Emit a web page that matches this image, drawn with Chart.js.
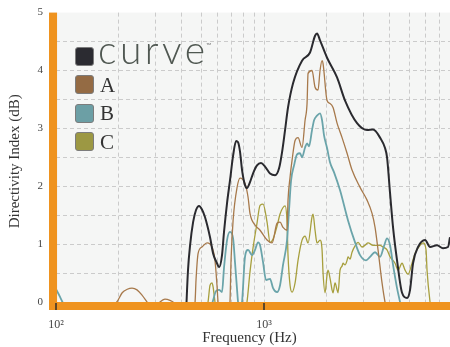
<!DOCTYPE html>
<html lang="en">
<head>
  <meta charset="UTF-8">
  <title>Directivity Index</title>
  <script src="https://cdn.jsdelivr.net/npm/chart.js"></script>
  <style>
    body { margin: 0; background: #fff; }
    #wrap { position: relative; width: 450px; height: 347px; }
    .sw { position: absolute; left: 75px; width: 17px; height: 17px; border: 1px solid #7c7c7c; border-radius: 3px; box-sizing: content-box; }
    .lab { position: absolute; left: 100px; font-family: "Liberation Serif", serif; font-size: 21px; line-height: 21px; color: #333; }
    #logo { position: absolute; left: 98px; top: 30px; font-family: Lato, sans-serif; font-weight: 300; font-size: 39px; line-height: 39px; letter-spacing: 3.5px; color: #505852; }
    #tm { position: absolute; left: 206px; top: 41px; font-family: Lato, sans-serif; font-size: 7px; color: #777; }
  </style>
</head>
<body>
  <div id="wrap">
    <canvas id="grafico" width="450" height="347"></canvas>
    <div class="sw" style="top:47px;background:#2b2b31"></div>
    <div id="logo">curve</div>
    <div id="tm">™</div>
    <div class="sw" style="top:75px;background:#946b44"></div>
    <div class="lab" style="top:75px">A</div>
    <div class="sw" style="top:104px;background:#6c9fa5"></div>
    <div class="lab" style="top:103px">B</div>
    <div class="sw" style="top:132px;background:#9c9843"></div>
    <div class="lab" style="top:132px">C</div>
  </div>

  <script>
    // frequencies in Hz, values in dB
    const curveHz = [422,431,441,456,471,487,503,520,550,569,594,608,628,642,664,686,710,734,750,767,784,810,828,856,885,925,967,1011,1069,1130,1181,1221,1262,1304,1379,1523,1664,1759,1798,1859,2009,2244,2452,2800,3128,3343,3612,3817,3903,4035,4171,4360,4608,4871,5035,5205,5501,5944,6283,6785,7251,7663,7836];
    const curveDb = [-0.17,0.55,0.98,1.38,1.59,1.66,1.60,1.47,1.12,0.84,0.67,0.60,0.81,1.21,1.71,2.10,2.53,2.78,2.76,2.59,2.28,2.02,1.97,2.07,2.22,2.36,2.40,2.34,2.22,2.19,2.31,2.59,2.97,3.36,3.78,4.17,4.31,4.60,4.64,4.52,4.22,3.88,3.48,3.09,2.97,2.98,2.84,2.66,2.50,1.88,1.29,0.72,0.16,0.07,0.21,0.67,0.95,1.07,0.95,0.98,0.93,0.95,1.12];

    const aHz = [188,196,208,220,232,245,259,274,283,299,316,334,353,365,378,441,461,466,471,482,503,532,562,581,594,601,608,679,686,694,710,742,767,810,838,856,905,957,1034,1093,1155,1194,1234,1290,1304,1334,1364,1410,1457,1523,1575,1610,1628,1701,1759,1818,1859,1901,1922,2009,2077,2147,2244,2372,2507,2649,2895,3128,3306,3418,3533,3693,3817,3903];
    const aDb = [-0.05,0,0.16,0.22,0.24,0.21,0.12,0,-0.07,-0.10,0,0.05,0.03,0,-0.07,-0.17,-0.07,0,0.38,0.84,0.95,1.02,0.95,0.72,0.29,0,-0.14,-0.14,0,0.72,1.41,1.98,2.14,2.05,1.81,1.53,1.33,1.24,1.07,1.02,1.36,1.38,1.29,1.24,1.76,2.16,2.45,2.79,2.84,2.67,3.14,3.43,3.95,4.00,3.71,3.66,4.00,4.17,4.12,3.48,3.43,3.36,3.09,2.84,2.57,2.28,1.98,1.76,1.53,1.29,0.90,0.33,0,-0.14];

    const bHz = [100,104.5,108,112,203,520,550,569,588,608,628,642,664,686,710,725,742,750,767,784,810,838,876,905,936,957,989,1022,1069,1105,1155,1194,1234,1290,1319,1349,1394,1441,1490,1523,1575,1610,1646,1701,1740,1798,1859,1901,1943,2009,2077,2171,2320,2534,2739,2895,3093,3234,3418,3612,3776,3903,4035,4171,4360,4507,4608];
    const bDb = [0.22,0.09,-0.02,-0.14,-0.31,-0.31,-0.17,0.03,0.19,0.21,0.17,0.59,1.07,1.21,1.10,0.69,0.21,0,-0.17,0,0.78,0.90,0.81,0.90,1.03,0.98,0.69,0.38,0.40,0.24,0.17,0.29,0.64,1.07,1.59,2.10,2.36,2.55,2.57,2.50,2.67,2.74,2.69,2.97,3.14,3.22,3.26,3.14,2.88,2.66,2.41,2.24,1.93,1.41,1.03,0.81,0.72,0.78,0.86,0.78,0.97,1.10,0.98,0.64,0.24,0,-0.17];

    const cHz = [520,538,550,562,569,581,594,801,828,856,885,925,957,989,1034,1069,1105,1155,1194,1262,1290,1304,1334,1364,1410,1457,1523,1575,1628,1701,1720,1759,1798,1859,1901,1922,1965,2009,2031,2077,2123,2147,2195,2244,2269,2320,2372,2398,2452,2507,2534,2591,2649,2739,2831,2959,3059,3163,3343,3612,3734,3903,4035,4264,4408,4608,4764,4924,5147,5321,5624,5814,6010,6077,6283,6423];
    const cDb = [-0.22,0,0.29,0.33,0.26,0,-0.22,-0.22,0,0.52,0.93,1.36,1.67,1.69,1.38,1.03,1.09,1.31,1.52,1.66,1.38,0.81,0.29,0.17,0.33,0.72,1.07,1.14,1.02,1.47,1.52,1.24,1.02,1.07,0.90,0.50,0.16,0.47,0.55,0.41,0.21,0.16,0.33,0.21,0.16,0.55,0.62,0.67,0.64,0.72,0.78,0.74,0.86,0.97,1.03,0.95,0.98,1.02,0.98,0.98,0.95,0.90,0.78,0.67,0.55,0.67,0.55,0.48,0.67,0.84,0.98,1.02,0.90,0.55,0,-0.22];

    const xGrid = [100,200,300,400,500,600,700,800,900,1000,2000,3000,4000,5000,6000,7000];
    const yGrid = [0,0.5,1,1.5,2,2.5,3,3.5,4,4.5,5];
    const xLabels = { 100: '10²', 1000: '10³' };

    const pts = (hz, db) => hz.map((f, i) => ({ x: f, y: db[i] }));
    const serif = '"Liberation Serif", serif';
    const orange = '#ef931f';

    const fondo = {
      id: 'fondo',
      beforeDraw(chart) {
        const { ctx, chartArea: a } = chart;
        ctx.save();
        ctx.fillStyle = '#f5f6f5';
        ctx.fillRect(a.left, a.top, a.right - a.left, a.bottom - a.top);
        ctx.restore();
      },
      afterDatasetsDraw(chart) {
        const { ctx, chartArea: a, scales } = chart;
        const y0 = scales.y.getPixelForValue(0);
        const x100 = scales.x.getPixelForValue(100);
        ctx.save();
        ctx.fillStyle = orange;
        ctx.fillRect(a.left, y0, a.right - a.left, a.bottom - y0);
        ctx.fillRect(a.left, a.top, x100 + 1 - a.left, a.bottom - a.top);
        ctx.strokeStyle = '#2e2e2e';
        ctx.lineWidth = 1.5;
        [100, 1000].forEach(v => {
          const x = Math.round(scales.x.getPixelForValue(v));
          ctx.beginPath();
          ctx.moveTo(x, y0 + 1);
          ctx.lineTo(x, a.bottom);
          ctx.stroke();
        });
        ctx.restore();
      }
    };

    const linea = (label, hz, db, color, width) => ({
      label, data: pts(hz, db), borderColor: color, borderWidth: width,
      pointRadius: 0, cubicInterpolationMode: 'monotone', fill: false
    });

    new Chart(document.getElementById('grafico'), {
      type: 'line',
      data: {
        datasets: [
          linea('curve', curveHz, curveDb, '#2a2a2f', 2),
          linea('A', aHz, aDb, '#a7794b', 1.3),
          linea('B', bHz, bDb, '#6aa4aa', 1.8),
          linea('C', cHz, cDb, '#a79f3d', 1.3)
        ]
      },
      options: {
        responsive: false,
        animation: false,
        layout: { padding: { top: 11, right: 0, left: 0, bottom: 0 } },
        plugins: { legend: { display: false }, tooltip: { enabled: false } },
        scales: {
          x: {
            type: 'logarithmic',
            min: 92.5,
            max: 7836,
            afterFit: s => { s.height = 37; },
            afterBuildTicks: s => { s.ticks = xGrid.map(v => ({ value: v })); },
            ticks: {
              autoSkip: false, maxRotation: 0, padding: 8, color: '#444',
              font: { family: serif, size: 12 },
              callback: v => xLabels[v] || ''
            },
            grid: { color: c => c.tick && c.tick.value === 100 ? 'transparent' : '#cbcbcb', drawTicks: false },
            border: { display: false, dash: [4, 3] },
            title: { display: true, text: 'Frequency (Hz)', color: '#333', font: { family: serif, size: 15 }, padding: { top: 0, bottom: 0 } }
          },
          y: {
            min: -0.138,
            max: 5,
            afterFit: s => { s.width = 49; },
            afterBuildTicks: s => { s.ticks = yGrid.map(v => ({ value: v })); },
            ticks: {
              padding: 6, color: '#444',
              font: { family: serif, size: 11 },
              callback: v => Number.isInteger(v) ? v : ''
            },
            grid: { color: c => c.tick && (c.tick.value === 5 || c.tick.value === 0) ? 'transparent' : '#cbcbcb', drawTicks: false },
            border: { display: false, dash: [4, 3] },
            title: { display: true, text: 'Directivity Index (dB)', color: '#333', font: { family: serif, size: 15 }, padding: { top: 6, bottom: 0 } }
          }
        }
      },
      plugins: [fondo]
    });
  </script>
</body>
</html>
